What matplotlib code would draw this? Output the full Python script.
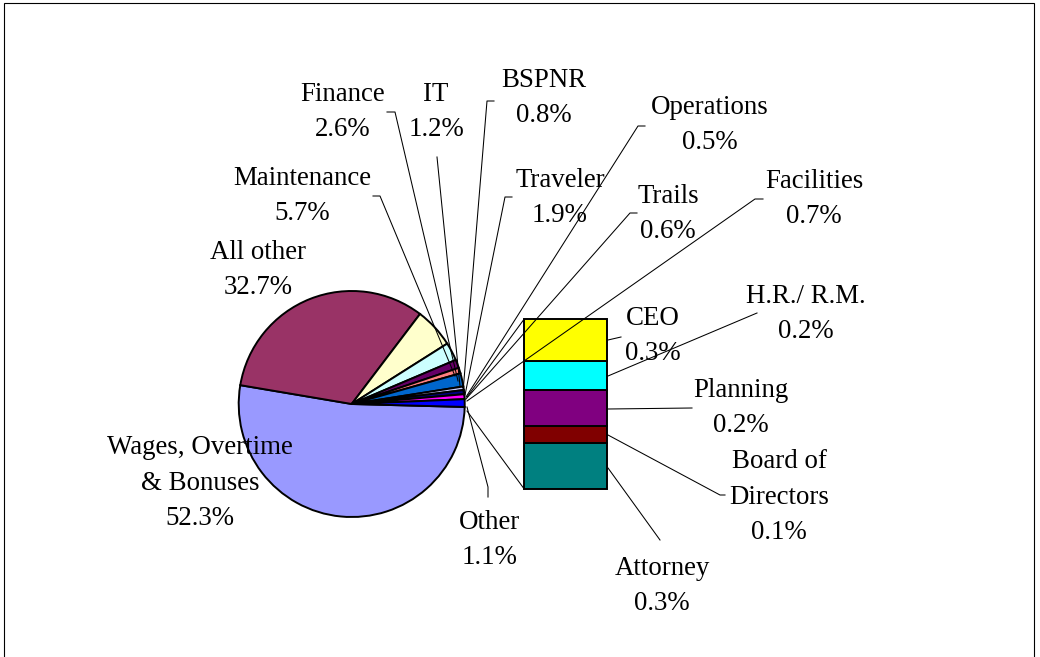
import matplotlib
matplotlib.use("Agg")
import matplotlib.pyplot as plt
from matplotlib.patches import Rectangle

# ---------------- data ----------------
pie_labels = ["Wages, Overtime\n& Bonuses", "All other", "Maintenance", "Finance", "IT",
              "BSPNR", "Traveler", "Operations", "Trails", "Facilities", "Other"]
pie_values = [52.3, 32.7, 5.7, 2.6, 1.2, 0.8, 1.9, 0.5, 0.6, 0.7, 1.1]
pie_colors = ["#9999FF", "#993366", "#FFFFCC", "#CCFFFF", "#660066", "#FF8080",
              "#0066CC", "#CCCCFF", "#000080", "#FF00FF", "#0000FF"]

bar_labels = ["CEO", "H.R./ R.M.", "Planning", "Board of\nDirectors", "Attorney"]
bar_values = [0.27, 0.19, 0.23, 0.11, 0.30]
bar_colors = ["#FFFF00", "#00FFFF", "#800080", "#800000", "#008080"]

# ---------------- layout (pixel coordinates, y down) ----------------
W, H = 1040, 657
def Y(py):
    return H - py

pie_center = (351.7, 404.0)
pie_radius = 113.0
pie_start = -1.5

bar_left, bar_right = 524.0, 606.7
bar_top, bar_bottom = 319.3, 488.7

pie_label_pos = [(200, 483), (258, 270), (302, 196), (343, 112), (436, 112),
                 (544, 98), (560, 198), (710, 125), (668, 214), (814, 199), (490, 540)]
bar_label_pos = [(653, 336), (806, 314), (741, 408), (779, 497), (662, 586)]

leader_lines = [
    [(373, 196), (380, 196), (455, 376)],          # Maintenance
    [(387, 112), (395, 112), (458, 381)],          # Finance
    [(437, 157), (460, 386)],                      # IT
    [(494, 101), (487, 101), (463, 392)],          # BSPNR
    [(512, 197), (505, 197), (465, 395)],          # Traveler
    [(645, 126), (638, 126), (466, 397)],          # Operations
    [(637, 213), (630, 213), (466, 399)],          # Trails
    [(763, 199), (755, 199), (467, 401)],          # Facilities
    [(467, 407), (488, 487), (488, 497)],          # Other
    [(608, 340), (621, 337)],                      # CEO
    [(608, 376), (757, 313)],                      # HR
    [(608, 409), (692, 408)],                      # Planning
    [(608, 435), (720, 495), (725, 495)],          # Board
    [(608, 468), (660, 540)],                      # Attorney
]
connectors = [[(467, 397), (bar_left, bar_top)],
              [(467, 411), (bar_left, bar_bottom)]]

FONT = ["Liberation Serif", "DejaVu Serif"]
FS = 19.4

fig = plt.figure(figsize=(W / 100, H / 100), dpi=100)
ax = fig.add_axes([0, 0, 1, 1])

wedges, _ = ax.pie(pie_values, colors=pie_colors, startangle=pie_start, counterclock=False,
                   radius=pie_radius, center=(pie_center[0], Y(pie_center[1])),
                   wedgeprops=dict(edgecolor="black", linewidth=1.4), frame=False)

# stacked bar ("Other" breakdown), drawn from bottom up
scale = (bar_bottom - bar_top) / sum(bar_values)
bottom = Y(bar_bottom)
for v, c in zip(reversed(bar_values), reversed(bar_colors)):
    ax.bar((bar_left + bar_right) / 2, v * scale, width=bar_right - bar_left, bottom=bottom,
           color=c, edgecolor="black", linewidth=1.4, zorder=3)
    bottom += v * scale

for line in leader_lines + connectors:
    xs = [p[0] for p in line]
    ys = [Y(p[1]) for p in line]
    ax.plot(xs, ys, color="black", linewidth=0.75, zorder=4)

for lab, v, (px, py) in zip(pie_labels, pie_values, pie_label_pos):
    ax.text(px, Y(py), f"{lab}\n{v:.1f}%", ha="center", va="center", family=FONT,
            fontsize=FS, linespacing=1.55, zorder=5)
for lab, v, (px, py) in zip(bar_labels, bar_values, bar_label_pos):
    ax.text(px, Y(py), f"{lab}\n{v:.1f}%", ha="center", va="center", family=FONT,
            fontsize=FS, linespacing=1.55, zorder=5)

ax.add_patch(Rectangle((4, Y(670)), 1030, 667, fill=False, edgecolor="black", linewidth=0.8))

ax.set_xlim(0, W)
ax.set_ylim(0, H)
ax.set_aspect("equal")
ax.axis("off")
fig.savefig("out.png", dpi=100)
